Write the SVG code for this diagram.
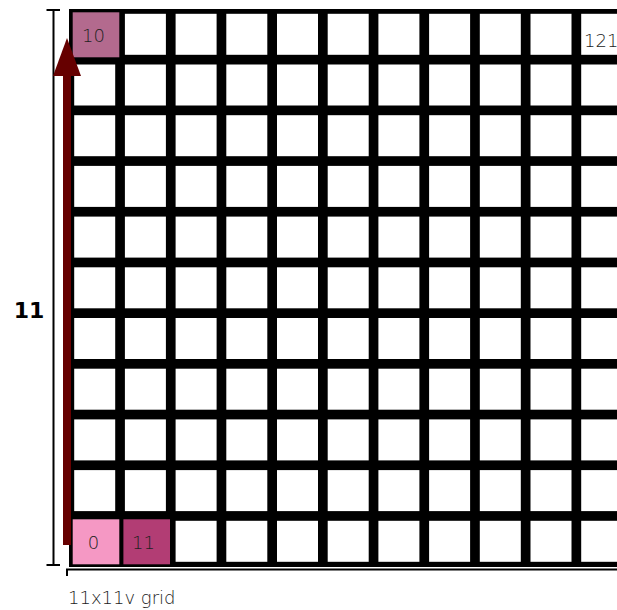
<svg xmlns="http://www.w3.org/2000/svg" width="617" height="610" viewBox="0 0 617 610">
<style>
.w{fill:#ffffff}
.lbl{font-family:"DejaVu Sans","Liberation Sans",sans-serif;font-size:18px;fill:#222222;text-anchor:middle;font-weight:300}
.ax{stroke:#000000;stroke-width:2;fill:none}
</style>
<rect width="617" height="610" fill="#ffffff"/>
<g id="grid-background"><rect x="69" y="9" width="560" height="558" fill="#000000"/></g>
<g id="cells">
<g id="col0">
<rect class="w" x="74.2" y="13.8" width="41" height="41"/><rect class="w" x="74.2" y="64.5" width="41" height="41"/><rect class="w" x="74.2" y="115.2" width="41" height="41"/><rect class="w" x="74.2" y="165.9" width="41" height="41"/><rect class="w" x="74.2" y="216.6" width="41" height="41"/><rect class="w" x="74.2" y="267.3" width="41" height="41"/><rect class="w" x="74.2" y="318" width="41" height="41"/><rect class="w" x="74.2" y="368.7" width="41" height="41"/><rect class="w" x="74.2" y="419.4" width="41" height="41"/><rect class="w" x="74.2" y="470.1" width="41" height="41"/><rect class="w" x="74.2" y="520.8" width="41" height="41"/>
</g>
<g id="col1">
<rect class="w" x="124.9" y="13.8" width="41" height="41"/><rect class="w" x="124.9" y="64.5" width="41" height="41"/><rect class="w" x="124.9" y="115.2" width="41" height="41"/><rect class="w" x="124.9" y="165.9" width="41" height="41"/><rect class="w" x="124.9" y="216.6" width="41" height="41"/><rect class="w" x="124.9" y="267.3" width="41" height="41"/><rect class="w" x="124.9" y="318" width="41" height="41"/><rect class="w" x="124.9" y="368.7" width="41" height="41"/><rect class="w" x="124.9" y="419.4" width="41" height="41"/><rect class="w" x="124.9" y="470.1" width="41" height="41"/><rect class="w" x="124.9" y="520.8" width="41" height="41"/>
</g>
<g id="col2">
<rect class="w" x="175.6" y="13.8" width="41" height="41"/><rect class="w" x="175.6" y="64.5" width="41" height="41"/><rect class="w" x="175.6" y="115.2" width="41" height="41"/><rect class="w" x="175.6" y="165.9" width="41" height="41"/><rect class="w" x="175.6" y="216.6" width="41" height="41"/><rect class="w" x="175.6" y="267.3" width="41" height="41"/><rect class="w" x="175.6" y="318" width="41" height="41"/><rect class="w" x="175.6" y="368.7" width="41" height="41"/><rect class="w" x="175.6" y="419.4" width="41" height="41"/><rect class="w" x="175.6" y="470.1" width="41" height="41"/><rect class="w" x="175.6" y="520.8" width="41" height="41"/>
</g>
<g id="col3">
<rect class="w" x="226.3" y="13.8" width="41" height="41"/><rect class="w" x="226.3" y="64.5" width="41" height="41"/><rect class="w" x="226.3" y="115.2" width="41" height="41"/><rect class="w" x="226.3" y="165.9" width="41" height="41"/><rect class="w" x="226.3" y="216.6" width="41" height="41"/><rect class="w" x="226.3" y="267.3" width="41" height="41"/><rect class="w" x="226.3" y="318" width="41" height="41"/><rect class="w" x="226.3" y="368.7" width="41" height="41"/><rect class="w" x="226.3" y="419.4" width="41" height="41"/><rect class="w" x="226.3" y="470.1" width="41" height="41"/><rect class="w" x="226.3" y="520.8" width="41" height="41"/>
</g>
<g id="col4">
<rect class="w" x="277" y="13.8" width="41" height="41"/><rect class="w" x="277" y="64.5" width="41" height="41"/><rect class="w" x="277" y="115.2" width="41" height="41"/><rect class="w" x="277" y="165.9" width="41" height="41"/><rect class="w" x="277" y="216.6" width="41" height="41"/><rect class="w" x="277" y="267.3" width="41" height="41"/><rect class="w" x="277" y="318" width="41" height="41"/><rect class="w" x="277" y="368.7" width="41" height="41"/><rect class="w" x="277" y="419.4" width="41" height="41"/><rect class="w" x="277" y="470.1" width="41" height="41"/><rect class="w" x="277" y="520.8" width="41" height="41"/>
</g>
<g id="col5">
<rect class="w" x="327.7" y="13.8" width="41" height="41"/><rect class="w" x="327.7" y="64.5" width="41" height="41"/><rect class="w" x="327.7" y="115.2" width="41" height="41"/><rect class="w" x="327.7" y="165.9" width="41" height="41"/><rect class="w" x="327.7" y="216.6" width="41" height="41"/><rect class="w" x="327.7" y="267.3" width="41" height="41"/><rect class="w" x="327.7" y="318" width="41" height="41"/><rect class="w" x="327.7" y="368.7" width="41" height="41"/><rect class="w" x="327.7" y="419.4" width="41" height="41"/><rect class="w" x="327.7" y="470.1" width="41" height="41"/><rect class="w" x="327.7" y="520.8" width="41" height="41"/>
</g>
<g id="col6">
<rect class="w" x="378.4" y="13.8" width="41" height="41"/><rect class="w" x="378.4" y="64.5" width="41" height="41"/><rect class="w" x="378.4" y="115.2" width="41" height="41"/><rect class="w" x="378.4" y="165.9" width="41" height="41"/><rect class="w" x="378.4" y="216.6" width="41" height="41"/><rect class="w" x="378.4" y="267.3" width="41" height="41"/><rect class="w" x="378.4" y="318" width="41" height="41"/><rect class="w" x="378.4" y="368.7" width="41" height="41"/><rect class="w" x="378.4" y="419.4" width="41" height="41"/><rect class="w" x="378.4" y="470.1" width="41" height="41"/><rect class="w" x="378.4" y="520.8" width="41" height="41"/>
</g>
<g id="col7">
<rect class="w" x="429.1" y="13.8" width="41" height="41"/><rect class="w" x="429.1" y="64.5" width="41" height="41"/><rect class="w" x="429.1" y="115.2" width="41" height="41"/><rect class="w" x="429.1" y="165.9" width="41" height="41"/><rect class="w" x="429.1" y="216.6" width="41" height="41"/><rect class="w" x="429.1" y="267.3" width="41" height="41"/><rect class="w" x="429.1" y="318" width="41" height="41"/><rect class="w" x="429.1" y="368.7" width="41" height="41"/><rect class="w" x="429.1" y="419.4" width="41" height="41"/><rect class="w" x="429.1" y="470.1" width="41" height="41"/><rect class="w" x="429.1" y="520.8" width="41" height="41"/>
</g>
<g id="col8">
<rect class="w" x="479.8" y="13.8" width="41" height="41"/><rect class="w" x="479.8" y="64.5" width="41" height="41"/><rect class="w" x="479.8" y="115.2" width="41" height="41"/><rect class="w" x="479.8" y="165.9" width="41" height="41"/><rect class="w" x="479.8" y="216.6" width="41" height="41"/><rect class="w" x="479.8" y="267.3" width="41" height="41"/><rect class="w" x="479.8" y="318" width="41" height="41"/><rect class="w" x="479.8" y="368.7" width="41" height="41"/><rect class="w" x="479.8" y="419.4" width="41" height="41"/><rect class="w" x="479.8" y="470.1" width="41" height="41"/><rect class="w" x="479.8" y="520.8" width="41" height="41"/>
</g>
<g id="col9">
<rect class="w" x="530.5" y="13.8" width="41" height="41"/><rect class="w" x="530.5" y="64.5" width="41" height="41"/><rect class="w" x="530.5" y="115.2" width="41" height="41"/><rect class="w" x="530.5" y="165.9" width="41" height="41"/><rect class="w" x="530.5" y="216.6" width="41" height="41"/><rect class="w" x="530.5" y="267.3" width="41" height="41"/><rect class="w" x="530.5" y="318" width="41" height="41"/><rect class="w" x="530.5" y="368.7" width="41" height="41"/><rect class="w" x="530.5" y="419.4" width="41" height="41"/><rect class="w" x="530.5" y="470.1" width="41" height="41"/><rect class="w" x="530.5" y="520.8" width="41" height="41"/>
</g>
<g id="col10">
<rect class="w" x="581.2" y="13.8" width="41" height="41"/><rect class="w" x="581.2" y="64.5" width="41" height="41"/><rect class="w" x="581.2" y="115.2" width="41" height="41"/><rect class="w" x="581.2" y="165.9" width="41" height="41"/><rect class="w" x="581.2" y="216.6" width="41" height="41"/><rect class="w" x="581.2" y="267.3" width="41" height="41"/><rect class="w" x="581.2" y="318" width="41" height="41"/><rect class="w" x="581.2" y="368.7" width="41" height="41"/><rect class="w" x="581.2" y="419.4" width="41" height="41"/><rect class="w" x="581.2" y="470.1" width="41" height="41"/><rect class="w" x="581.2" y="520.8" width="41" height="41"/>
</g>
</g>
<g id="cell-10"><rect x="72.7" y="12.3" width="46.6" height="45" fill="#b36a8e"/><text class="lbl" x="93.4" y="41.5">10</text></g>
<g id="cell-0"><rect x="72.7" y="519.3" width="46.6" height="45" fill="#f598c4"/><text class="lbl" x="93.4" y="548.5">0</text></g>
<g id="cell-11"><rect x="123.4" y="519.3" width="46.6" height="45" fill="#b23d74"/><text class="lbl" x="143.4" y="548.5">11</text></g>
<g id="cell-121"><text class="lbl" x="601.3" y="46.5">121</text></g>
<g id="axes">
<path class="ax" d="M53.5 10V565M46.5 10H60M46.5 565H60"/>
<path class="ax" d="M67 576V569.5H617"/>
<text x="29" y="318" font-family="DejaVu Sans, Liberation Sans, sans-serif" font-size="22" font-weight="bold" fill="#000000" text-anchor="middle">11</text>
<text x="68" y="604" font-family="DejaVu Sans, Liberation Sans, sans-serif" font-size="18" font-weight="300" fill="#222222">11x11v grid</text>
</g>
<g id="connectors">
<line x1="67" y1="545" x2="67" y2="70" stroke="#660000" stroke-width="8"/>
<polygon points="67,38 53,76 81,76" fill="#660000"/>
</g>
</svg>
